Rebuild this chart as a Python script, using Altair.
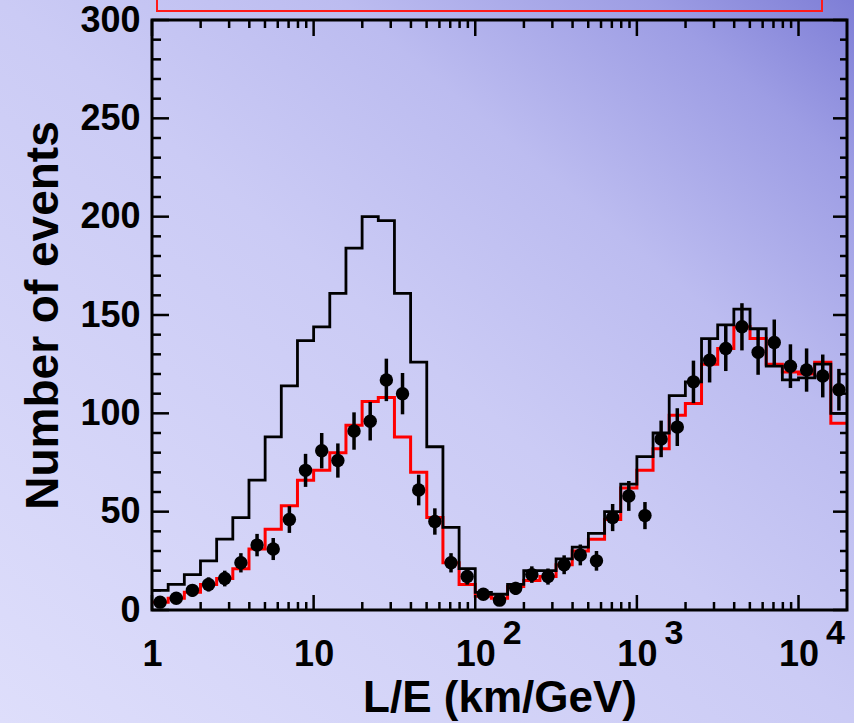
import altair as alt
import pandas as pd

# ---------------- data ----------------
# 43 bins, 0.1 decade wide in log10(L/E), from 10^0 to 10^4.3 km/GeV
N_BINS = 43
LOG_STEP = 0.1

data_counts = [4, 6, 10, 13, 16, 24, 33, 31, 46, 71, 81, 76, 91, 96, 117, 110, 61, 45,
               24, 17, 8, 5, 11, 18, 17, 23, 28, 25, 47, 58, 48, 87, 93, 116, 127, 133,
               144, 131, 136, 124, 122, 119, 112]
data_errors = [2.0, 2.4, 3.2, 3.6, 4.0, 4.9, 5.7, 5.6, 6.8, 8.4, 9.0, 8.7, 9.5, 9.8, 10.8,
               10.5, 7.8, 6.7, 4.9, 4.1, 2.8, 2.2, 3.3, 4.2, 4.1, 4.8, 5.3, 5.0, 6.9, 7.6,
               6.9, 9.3, 9.6, 10.8, 11.3, 11.5, 12.0, 11.4, 11.7, 11.1, 11.0, 10.9, 10.6]
no_osc = [10, 13, 18, 25, 36, 47, 66, 88, 114, 137, 144, 161, 184, 200, 198, 161, 126, 83,
          42, 21, 9, 8, 13, 20, 20, 26, 32, 39, 50, 64, 78, 90, 109, 116, 138, 145, 153,
          143, 124, 117, 118, 125, 100]
osc_fit = [4, 6, 9, 13, 16, 21, 31, 41, 53, 66, 71, 80, 94, 106, 108, 88, 70, 47, 24, 13,
           7, 6, 12, 15, 17, 23, 30, 36, 46, 62, 71, 82, 99, 105, 125, 133, 144, 138, 125,
           121, 120, 126, 95]

y_major_ticks = [0, 50, 100, 150, 200, 250, 300]
y_minor_ticks = [v for v in range(0, 301, 10) if v % 50 != 0]
x_major_ticks = [1, 10, 100, 1000, 10000]
x_max = 10 ** (N_BINS * LOG_STEP)
x_minor_ticks = [m * 10 ** d for d in range(5) for m in range(2, 10) if m * 10 ** d < x_max]
superscripts = ["2", "3", "4"]
superscript_pos = [100, 1000, 10000]

# ---------------- tables ----------------
edges = [10 ** (k * LOG_STEP) for k in range(N_BINS + 1)]
centers = [10 ** ((k + 0.5) * LOG_STEP) for k in range(N_BINS)]

hist_df = pd.DataFrame({
    "edge": edges,
    "no_osc": no_osc + [no_osc[-1]],
    "osc": osc_fit + [osc_fit[-1]],
})
pts_df = pd.DataFrame({
    "center": centers,
    "count": data_counts,
    "lo": [c - e for c, e in zip(data_counts, data_errors)],
    "hi": [c + e for c, e in zip(data_counts, data_errors)],
})

W, H = 695, 590
PAD = {"left": 152, "top": 20, "right": 7, "bottom": 113}
FONT = "Liberation Sans"

xscale = alt.Scale(type="log", domain=[1, x_max], nice=False)
yscale = alt.Scale(domain=[0, 300], nice=False, zero=False)

xaxis = alt.Axis(
    values=x_major_ticks, labelExpr="datum.value == 1 ? '1' : '10'",
    ticks=False, domain=False, grid=False, labelFlush=False, labelOverlap=False,
    labelFont=FONT, labelFontSize=36, labelFontWeight="bold", labelColor="black",
    labelPadding=27, title="L/E (km/GeV)", titleFont=FONT, titleFontSize=44,
    titleFontWeight="bold", titleColor="black", titlePadding=4, zindex=2,
)
yaxis = alt.Axis(
    values=y_major_ticks, ticks=False, domain=False, grid=False,
    labelFont=FONT, labelFontSize=36, labelFontWeight="bold", labelColor="black",
    labelPadding=12, labelFlush=False, title="Number of events", titleFont=FONT,
    titleFontSize=46, titleFontWeight="bold", titleColor="black", titlePadding=12,
    zindex=2,
)

def X(field):
    return alt.X(field, scale=xscale, axis=xaxis)

def Y(field):
    return alt.Y(field, scale=yscale, axis=yaxis)

one = pd.DataFrame({"a": [0]})

gradient = alt.Gradient(
    gradient="linear", x1=1, y1=0, x2=0, y2=1,
    stops=[
        alt.GradientStop(offset=0, color="#7e7ed6"),
        alt.GradientStop(offset=0.12, color="#9d9de4"),
        alt.GradientStop(offset=0.3, color="#bcbcf0"),
        alt.GradientStop(offset=0.5, color="#cbcbf5"),
        alt.GradientStop(offset=1, color="#dedefb"),
    ],
)

bg = alt.Chart(one).mark_rect(color=gradient).encode(
    x=alt.value(-PAD["left"]), x2=alt.value(W + PAD["right"]),
    y=alt.value(-PAD["top"]), y2=alt.value(H + PAD["bottom"]),
)

legend_box = alt.Chart(one).mark_rect(filled=False, stroke="#ff1a1a", strokeWidth=2).encode(
    x=alt.value(5), x2=alt.value(670), y=alt.value(-30), y2=alt.value(-9),
)

osc_line = alt.Chart(hist_df).mark_line(interpolate="step-after", color="#ff0000",
                                        strokeWidth=3).encode(x=X("edge:Q"), y=Y("osc:Q"))
nosc_line = alt.Chart(hist_df).mark_line(interpolate="step-after", color="black",
                                         strokeWidth=2.8).encode(x=X("edge:Q"), y=Y("no_osc:Q"))

err = alt.Chart(pts_df).mark_rule(color="black", strokeWidth=3.5).encode(
    x=X("center:Q"), y=Y("lo:Q"), y2="hi:Q",
)
pts = alt.Chart(pts_df).mark_point(filled=True, shape="circle", size=180, color="black",
                                   opacity=1).encode(x=X("center:Q"), y=Y("count:Q"))

def yticks(values, length_left, length_right):
    df = pd.DataFrame({"v": values})
    left = alt.Chart(df).mark_rule(color="black", strokeWidth=2.5).encode(
        y=Y("v:Q"), x=alt.value(0), x2=alt.value(length_left))
    right = alt.Chart(df).mark_rule(color="black", strokeWidth=2.5).encode(
        y=Y("v:Q"), x=alt.value(W), x2=alt.value(W - length_right))
    return [left, right]

def xticks(values, length_bottom, length_top):
    df = pd.DataFrame({"v": values})
    bottom = alt.Chart(df).mark_rule(color="black", strokeWidth=2.5).encode(
        x=X("v:Q"), y=alt.value(H), y2=alt.value(H - length_bottom))
    top = alt.Chart(df).mark_rule(color="black", strokeWidth=2.5).encode(
        x=X("v:Q"), y=alt.value(0), y2=alt.value(length_top))
    return [bottom, top]

tick_layers = (yticks(y_major_ticks, 17, 14) + yticks(y_minor_ticks, 9, 7)
               + xticks(x_major_ticks, 15, 16) + xticks(x_minor_ticks, 8, 8))

frame = alt.Chart(one).mark_rect(filled=False, stroke="black", strokeWidth=3).encode(
    x=alt.value(0), x2=alt.value(W), y=alt.value(0), y2=alt.value(H),
)

sup_df = pd.DataFrame({"v": superscript_pos, "t": superscripts})
sup = alt.Chart(sup_df).mark_text(dx=37, font=FONT, fontSize=34, fontWeight="bold",
                                  color="black", baseline="middle", align="center").encode(
    x=X("v:Q"), y=alt.value(H + 24), text="t:N",
)

chart = alt.layer(
    bg, legend_box, osc_line, nosc_line, err, pts, *tick_layers, frame, sup
).properties(
    width=W, height=H,
    autosize=alt.AutoSizeParams(type="none"),
    padding=PAD,
).configure_view(stroke="transparent").configure(background="#cfcff5")

chart.save("out.html", embed_options={"renderer": "svg", "actions": False})
